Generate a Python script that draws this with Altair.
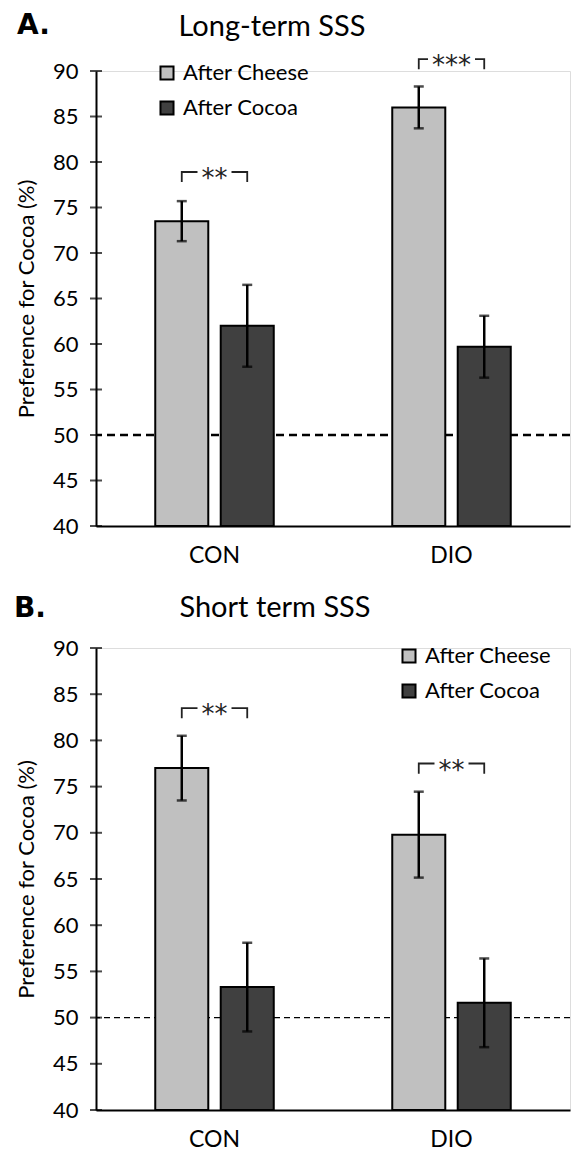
import altair as alt
import pandas as pd

groups = ["CON", "DIO"]
series = ["After Cheese", "After Cocoa"]
colors = ["#c0c0c0", "#404040"]

# Long-term SSS (order: CON cheese, CON cocoa, DIO cheese, DIO cocoa)
long_mean = [73.5, 62.0, 86.0, 59.7]
long_err = [2.2, 4.5, 2.3, 3.4]
long_sig = ["**", "***"]
long_sig_y = [78.9, 91.3]

# Short term SSS
short_mean = [77.0, 53.3, 69.8, 51.6]
short_err = [3.5, 4.8, 4.65, 4.8]
short_sig = ["**", "**"]
short_sig_y = [83.5, 77.5]

y_ticks = [40, 45, 50, 55, 60, 65, 70, 75, 80, 85, 90]
leg = 1.1
FONT = "Lato"
W = 474


def bars_df(means, errs):
    rows = []
    i = 0
    for g in groups:
        for s in series:
            rows.append({"group": g, "series": s, "mean": means[i],
                         "lo": means[i] - errs[i], "hi": means[i] + errs[i]})
            i += 1
    return pd.DataFrame(rows)


def bracket_df(sig_y):
    rows = []
    for g, yv in zip(groups, sig_y):
        rows.append({"group": g, "series": series[0], "y": yv - leg, "o": 0})
        rows.append({"group": g, "series": series[0], "y": yv, "o": 1})
        rows.append({"group": g, "series": series[1], "y": yv, "o": 2})
        rows.append({"group": g, "series": series[1], "y": yv - leg, "o": 3})
    return pd.DataFrame(rows)


def panel(means, errs, sigs, sig_y, title, letter, height, legend_x, legend_y,
          dash_w, dash, title_x, title_y, letter_x, letter_y):
    df = bars_df(means, errs)
    bdf = bracket_df(sig_y)
    sdf = pd.DataFrame({"group": groups, "sig": sigs, "y": sig_y,
                        "bg": [(13 * len(s) + 8) ** 2 for s in sigs]})

    xenc = alt.X("group:N", sort=groups,
                 scale=alt.Scale(paddingInner=0.5, paddingOuter=0.25),
                 axis=alt.Axis(labelAngle=0, title=None, domainColor="black",
                               domainWidth=2, ticks=False, labelFontSize=23,
                               labelColor="black", labelPadding=18, labelFont=FONT))
    xoff = alt.XOffset("series:N", sort=series,
                       scale=alt.Scale(domain=series, paddingInner=0.19))
    yscale = alt.Scale(domain=[40, 90], zero=False, nice=False)

    bars = alt.Chart(df).mark_bar(stroke="black", strokeWidth=2).encode(
        x=xenc, xOffset=xoff,
        y=alt.Y("mean:Q", scale=yscale,
                axis=alt.Axis(values=y_ticks, title="Preference for Cocoa (%)",
                              titleFontSize=22, titleFontWeight="normal",
                              titleColor="black", titleFont=FONT, titlePadding=14,
                              labelFontSize=22, labelColor="black", labelFont=FONT,
                              labelPadding=18, ticks=False, grid=False,
                              domainColor="black", domainWidth=2)),
        y2=alt.Y2Datum(40),
        color=alt.Color("series:N", sort=series,
                        scale=alt.Scale(domain=series, range=colors),
                        legend=alt.Legend(title=None, orient="none",
                                          legendX=legend_x, legendY=legend_y,
                                          symbolType="square", symbolSize=170,
                                          symbolStrokeColor="black",
                                          symbolStrokeWidth=2, symbolOpacity=1,
                                          labelFontSize=22, labelFont=FONT,
                                          labelColor="black", rowPadding=13,
                                          labelOffset=5)),
    )

    axis_ticks = alt.Chart(pd.DataFrame({"v": y_ticks})).mark_tick(
        orient="horizontal", color="black", thickness=2, size=12).encode(
        y=alt.Y("v:Q", scale=yscale), x=alt.value(0))

    dashed = alt.Chart(pd.DataFrame({"v": [50]})).mark_rule(
        color="black", strokeWidth=dash_w, strokeDash=dash).encode(
        y=alt.Y("v:Q", scale=yscale))

    err = alt.Chart(df).mark_rule(color="black", strokeWidth=2.5).encode(
        x=xenc, xOffset=xoff, y=alt.Y("lo:Q", scale=yscale), y2="hi:Q")
    cap_hi = alt.Chart(df).mark_tick(color="black", thickness=2.5, size=10).encode(
        x=xenc, xOffset=xoff, y=alt.Y("hi:Q", scale=yscale))
    cap_lo = alt.Chart(df).mark_tick(color="black", thickness=2.5, size=10).encode(
        x=xenc, xOffset=xoff, y=alt.Y("lo:Q", scale=yscale))

    brackets = alt.Chart(bdf).mark_line(color="#222", strokeWidth=1.8).encode(
        x=xenc, xOffset=xoff, y=alt.Y("y:Q", scale=yscale),
        order="o:Q", detail="group:N")
    sig_bg = alt.Chart(sdf).mark_point(
        shape="M-1,-0.3L1,-0.3L1,0.3L-1,0.3Z", filled=True, color="white",
        opacity=1).encode(x=xenc, y=alt.Y("y:Q", scale=yscale),
                          size=alt.Size("bg:Q", scale=None, legend=None))
    sig_txt = alt.Chart(sdf).mark_text(fontSize=26, font="DejaVu Sans", color="#222",
                                       baseline="alphabetic", dy=15).encode(
        x=xenc, y=alt.Y("y:Q", scale=yscale), text="sig:N")

    letter_txt = alt.Chart(pd.DataFrame({"t": [letter]})).mark_text(
        fontSize=28, fontWeight="bold", font="DejaVu Sans", color="black",
        align="left", baseline="alphabetic").encode(
        x=alt.value(letter_x), y=alt.value(letter_y), text="t:N")
    title_txt = alt.Chart(pd.DataFrame({"t": [title]})).mark_text(
        fontSize=29, font=FONT, color="black",
        align="center", baseline="alphabetic").encode(
        x=alt.value(title_x), y=alt.value(title_y), text="t:N")

    return alt.layer(dashed, bars, err, cap_hi, cap_lo, axis_ticks,
                     brackets, sig_bg, sig_txt, letter_txt, title_txt).properties(
        width=W, height=height)


top = panel(long_mean, long_err, long_sig, long_sig_y, "Long-term SSS", "A.",
            455, 60, -9, 2.5, [8, 5], 176, -35, -79, -37)
bottom = panel(short_mean, short_err, short_sig, short_sig_y, "Short term SSS", "B.",
               462, 302, -3, 1.4, [6, 4], 179, -31, -82, -31)

chart = alt.vconcat(top, bottom, spacing=25).resolve_scale(
    color="independent").resolve_legend(color="independent").configure_view(
    stroke=None).configure(font=FONT).properties(
    padding={"left": 5, "top": 3, "right": 0, "bottom": 0})

chart.save("out.html", embed_options={"renderer": "svg", "actions": False})
